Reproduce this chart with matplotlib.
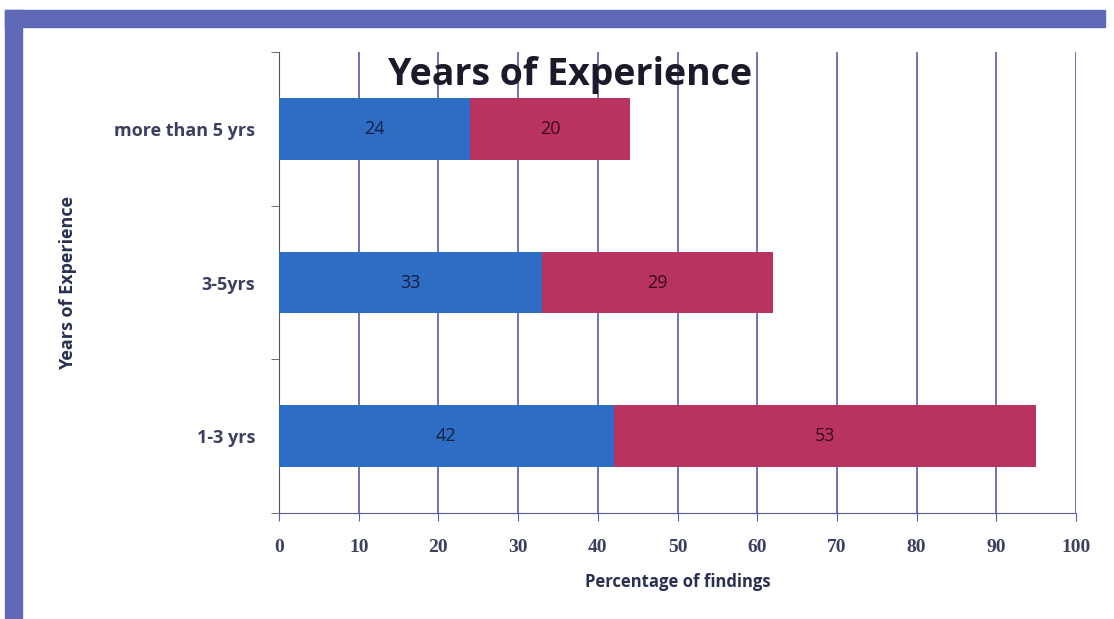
import numpy as np
import matplotlib.pyplot as plt
from matplotlib.patches import Rectangle

categories = ["1-3 yrs", "3-5yrs", "more than 5 yrs"]
series_a = [42, 33, 24]
series_b = [53, 29, 20]
x_ticks = [0, 10, 20, 30, 40, 50, 60, 70, 80, 90, 100]

blue = "#2f6cc3"
crimson = "#b83360"
grid_col = "#5a5aa8"
text_col = "#3c4060"


def main():
    plt.rcParams['font.family'] = ['Open Sans', 'DejaVu Sans']
    fig = plt.figure(figsize=(11.14, 6.19), dpi=100)

    # frame bands (top and left)
    fig.patches.append(Rectangle((5 / 1114, 1 - 27 / 619), 1100 / 1114, 17 / 619,
                                 transform=fig.transFigure, color="#6068b8", zorder=0))
    fig.patches.append(Rectangle((5 / 1114, 0), 17 / 1114, 1 - 10 / 619,
                                 transform=fig.transFigure, color="#6068b8", zorder=0))

    ax = fig.add_axes([279 / 1114, 1 - 513 / 619, (1076 - 279) / 1114, (513 - 52) / 619])
    y = np.arange(len(categories))

    bars_a = ax.barh(y, series_a, height=0.4, color=blue, zorder=3)
    bars_b = ax.barh(y, series_b, left=series_a, height=0.4, color=crimson, zorder=3)
    ax.bar_label(bars_a, label_type='center', color="#142040", fontsize=13)
    ax.bar_label(bars_b, label_type='center', color="#3a0820", fontsize=13)

    ax.set_xlim(0, 100)
    ax.set_ylim(-0.5, 2.5)
    ax.set_xticks(x_ticks)
    ax.set_xticklabels([str(t) for t in x_ticks], fontsize=14, fontweight='bold',
                       color=text_col, family=['Liberation Serif', 'DejaVu Serif'])
    ax.set_yticks(y)
    ax.set_yticklabels(categories, fontsize=13, fontweight='bold', color=text_col)
    ax.tick_params(axis='y', length=0, pad=17)
    ax.set_yticks([-0.5, 0.5, 1.5, 2.5], minor=True)
    ax.tick_params(axis='y', which='minor', length=6, color="#555")
    ax.tick_params(axis='x', length=6, color=grid_col, pad=13)

    ax.grid(axis='x', color=grid_col, linewidth=1.2, zorder=0)
    for side in ['top', 'right']:
        ax.spines[side].set_visible(False)
    ax.spines['left'].set_color("#555")
    ax.spines['bottom'].set_color(grid_col)

    ax.set_xlabel("Percentage of findings", fontsize=12, fontweight='bold',
                  color="#2a3050", labelpad=12)
    ax.set_ylabel("Years of Experience", fontsize=13, fontweight='bold',
                  color="#2a3050", labelpad=27)
    fig.text(570 / 1114, 1 - 75 / 619, "Years of Experience", fontsize=27,
             fontweight='bold', color="#1a1a2a", ha='center', va='center', zorder=5)

    fig.savefig("out.png", dpi=100)


if __name__ == "__main__":
    main()
